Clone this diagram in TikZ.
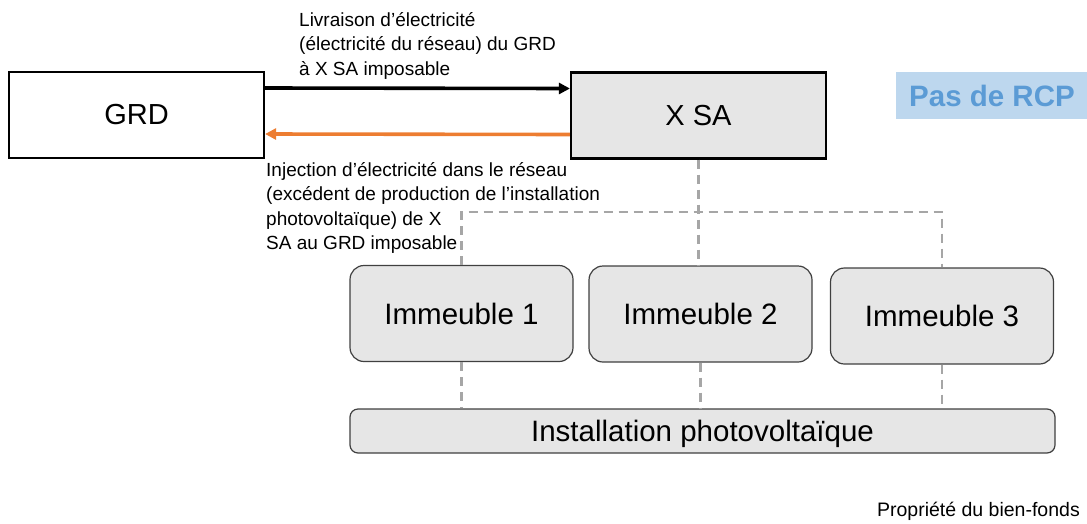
\documentclass[tikz,border=0pt]{standalone}
\usepackage{fontspec}
\setmainfont{Liberation Sans}
\usetikzlibrary{arrows.meta}
\definecolor{boxgray}{HTML}{E6E6E6}
\definecolor{dashgray}{HTML}{A6A6A6}
\definecolor{edgegray}{HTML}{404040}
\definecolor{arroworange}{HTML}{ED7D31}
\definecolor{rcpfill}{HTML}{BDD7EE}
\definecolor{rcptext}{HTML}{5B9BD5}
\tikzset{
  mainbox/.style={draw=black, line width=2.2pt, minimum width=255pt, minimum height=86pt, inner sep=0pt, font=\fontsize{29}{34}\selectfont},
  bldbox/.style={draw=edgegray, line width=1.2pt, fill=boxgray, rounded corners=14pt, minimum width=223pt, minimum height=96pt, inner sep=0pt, font=\fontsize{29.5}{34}\selectfont},
  pvbox/.style={draw=edgegray, line width=1.2pt, fill=boxgray, rounded corners=8pt, minimum width=705pt, minimum height=44pt, inner sep=0pt, text depth=0pt, font=\fontsize{29.5}{34}\selectfont},
  lbl/.style={align=left, inner sep=0pt, anchor=north west, font=\fontsize{19}{24.5}\selectfont},
  flow/.style={line width=3.6pt, -{Triangle[length=11pt,width=11pt]}},
  link/.style={draw=dashgray, line width=2.4pt, dash pattern=on 9pt off 6pt},
}
\begin{document}
\begin{tikzpicture}[x=1pt,y=-1pt]
\useasboundingbox (0,0) rectangle (1087,523);
\node[mainbox, fill=white] (GRD) at (136.5,115) {GRD};
\node[mainbox, fill=boxgray] (XSA) at (698.5,115.5) {X SA};
\node[bldbox] (I1) at (461.5,313.5) {Immeuble 1};
\node[bldbox] (I2) at (700.5,314) {Immeuble 2};
\node[bldbox] (I3) at (942,316) {Immeuble 3};
\node[pvbox] (PV) at (702.5,431) {Installation photovoltaïque};
\coordinate (J) at (698,212);
% dashed connections
\draw[link] (XSA.south) -- (XSA.south |- I2.north);
\draw[link] (I1.north) |- (J) -| (I3.north);
\draw[link] (I1.south) -- (I1.south |- PV.north);
\draw[link] (I2.south) -- (I2.south |- PV.north);
\draw[link] (I3.south) -- (I3.south |- PV.north);
% flows
\draw[flow, black] ([yshift=27pt]GRD.east) -- ([yshift=27pt]XSA.west);
\draw[flow, arroworange] ([yshift=-19pt]XSA.west) -- ([yshift=-19pt]GRD.east);
% labels
\node[lbl] (L1) at (299,12) {Livraison d’électricité\\(électricité du réseau) du GRD\\à X SA imposable};
\node[lbl] (L2) at (266,162) {Injection d’électricité dans le réseau\\(excédent de production de l’installation\\photovoltaïque) de X\\SA au GRD imposable};
% Pas de RCP
\node[fill=rcpfill, minimum width=191pt, minimum height=47pt, inner sep=0pt, anchor=north west] (RCPbox) at (896,72) {};
\node[anchor=west, inner sep=0pt, text=rcptext, font=\fontsize{29.5}{34}\selectfont\bfseries] (RCP) at (909,96) {Pas de RCP};
\node[anchor=east, inner sep=0pt, font=\fontsize{19.5}{24}\selectfont] (PROP) at (1080,511) {Propriété du bien-fonds};
\end{tikzpicture}
\end{document}
